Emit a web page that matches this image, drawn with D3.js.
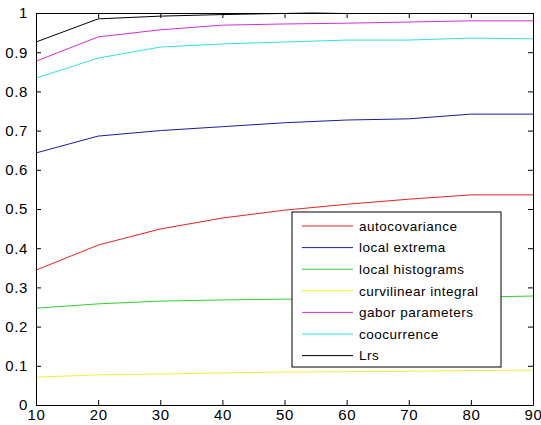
<!DOCTYPE html>
<html>
<head>
<meta charset="utf-8">
<script src="https://cdn.jsdelivr.net/npm/d3@7"></script>
<style>
  body { margin: 0; background: #fff; }
  text { font-family: "Liberation Sans", Arial, sans-serif; }
</style>
</head>
<body>
<div id="chart"></div>
<script>
// window sizes, x values and one array per method
const xValues = [10, 20, 30, 40, 50, 60, 70, 80, 90];
const autocovariance = [0.344, 0.408, 0.449, 0.477, 0.497, 0.512, 0.525, 0.536, 0.536];
const localExtrema = [0.643, 0.686, 0.700, 0.710, 0.720, 0.727, 0.730, 0.742, 0.742];
const localHistograms = [0.247, 0.258, 0.265, 0.268, 0.270, 0.270, 0.272, 0.275, 0.278];
const curvilinearIntegral = [0.071, 0.077, 0.079, 0.082, 0.084, 0.085, 0.086, 0.088, 0.089];
const gaborParameters = [0.877, 0.939, 0.957, 0.969, 0.972, 0.974, 0.977, 0.980, 0.980];
const coocurrence = [0.834, 0.885, 0.913, 0.921, 0.926, 0.931, 0.931, 0.936, 0.934];
const lrs = [0.926, 0.985, 0.992, 0.996, 0.999, 1.004, 1.008, 1.010, 1.012];

const seriesNames = ["autocovariance", "local extrema", "local histograms",
  "curvilinear integral", "gabor parameters", "coocurrence", "Lrs"];
const seriesValues = [autocovariance, localExtrema, localHistograms,
  curvilinearIntegral, gaborParameters, coocurrence, lrs];
const seriesColors = ["#e82020", "#1a1aa8", "#30d030", "#f2f030", "#d030d8", "#30e0e0", "#000000"];

const xTicks = [10, 20, 30, 40, 50, 60, 70, 80, 90];
const yTicks = [0, 0.1, 0.2, 0.3, 0.4, 0.5, 0.6, 0.7, 0.8, 0.9, 1];

const width = 541, height = 425;
const margin = { top: 13, right: 8, bottom: 20, left: 36 };

const svg = d3.select("#chart").append("svg")
  .attr("width", width)
  .attr("height", height);

const x = d3.scaleLinear().domain([10, 90]).range([margin.left, width - margin.right]);
const y = d3.scaleLinear().domain([0, 1]).range([height - margin.bottom, margin.top]);

// clip just above the top so a line sitting at 1.0 stays visible
svg.append("clipPath").attr("id", "plot-clip")
  .append("rect")
  .attr("x", x(10)).attr("y", y(1) - 0.5)
  .attr("width", x(90) - x(10)).attr("height", y(0) - y(1) + 0.5);

// lines
const line = d3.line()
  .x((d, i) => x(xValues[i]))
  .y(d => y(d));

svg.append("g")
  .attr("clip-path", "url(#plot-clip)")
  .selectAll("path")
  .data(seriesValues)
  .enter()
  .append("path")
  .attr("fill", "none")
  .attr("stroke", (d, i) => seriesColors[i])
  .attr("stroke-width", 1)
  .attr("d", line);

// axes, ticks inward on all four sides like matlab
const tickLen = 5;
const bottomAxis = d3.axisBottom(x).tickValues(xTicks).tickSizeInner(-tickLen).tickSizeOuter(0).tickPadding(4);
const topAxis = d3.axisTop(x).tickValues(xTicks).tickSizeInner(-tickLen).tickSizeOuter(0).tickFormat("");
const leftAxis = d3.axisLeft(y).tickValues(yTicks).tickSizeInner(-tickLen).tickSizeOuter(0).tickPadding(8)
  .tickFormat(d => d === 0 || d === 1 ? d3.format("d")(d) : d3.format(".1f")(d));
const rightAxis = d3.axisRight(y).tickValues(yTicks).tickSizeInner(-tickLen).tickSizeOuter(0).tickFormat("");

function styleAxis(g) {
  g.select(".domain").attr("stroke", "#000");
  g.selectAll(".tick line").attr("stroke", "#000");
  g.selectAll(".tick text")
    .attr("fill", "#000")
    .style("font-size", "15px")
    .style("letter-spacing", "0.6px")
    .style("font-family", "'Liberation Sans', Arial, sans-serif");
}

svg.append("g").attr("transform", `translate(0,${y(0)})`).call(bottomAxis).call(styleAxis);
svg.append("g").attr("transform", `translate(0,${y(1)})`).call(topAxis).call(styleAxis);
svg.append("g").attr("transform", `translate(${x(10)},0)`).call(leftAxis).call(styleAxis);
svg.append("g").attr("transform", `translate(${x(90)},0)`).call(rightAxis).call(styleAxis);

// legend
const legend = svg.append("g").attr("transform", "translate(292,212)");
const rowH = 21.6;
legend.append("rect")
  .attr("width", 209)
  .attr("height", 155)
  .attr("fill", "#fff")
  .attr("stroke", "#000");

const item = legend.selectAll(".item")
  .data(seriesNames)
  .enter()
  .append("g")
  .attr("class", "item")
  .attr("transform", (d, i) => `translate(0,${14 + i * rowH})`);

item.append("line")
  .attr("x1", 10).attr("x2", 61)
  .attr("stroke", (d, i) => seriesColors[i])
  .attr("stroke-width", 1);

item.append("text")
  .attr("x", 67)
  .attr("dy", "0.35em")
  .style("font-size", "13.5px")
  .style("letter-spacing", "0.5px")
  .attr("fill", "#000")
  .text(d => d);
</script>
</body>
</html>
